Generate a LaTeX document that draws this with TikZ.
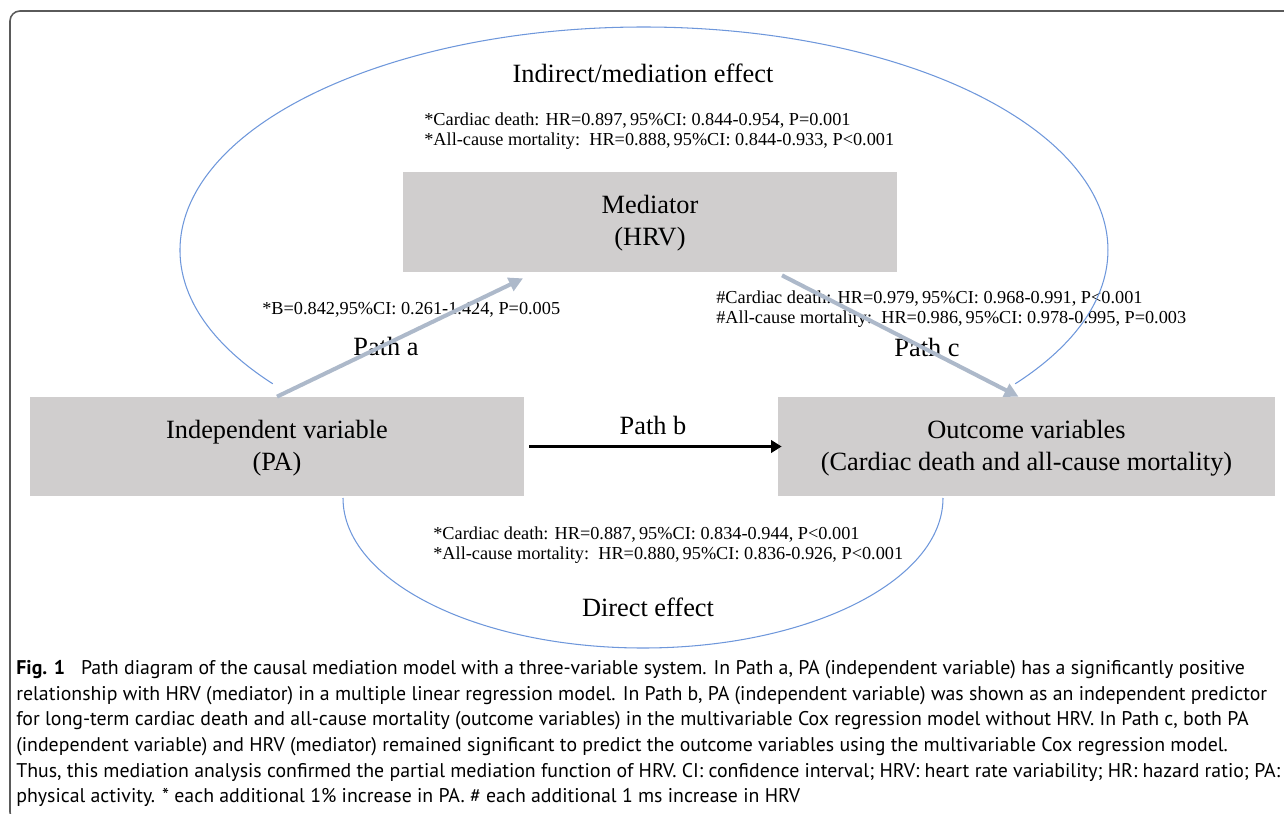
\documentclass[tikz,border=0pt]{standalone}
\usepackage{fontspec}
\setmainfont{Liberation Serif}
\newfontfamily\capfont{PT Sans}
\usetikzlibrary{positioning,arrows.meta}
\definecolor{boxgray}{HTML}{D0CECE}
\definecolor{pathblue}{HTML}{ADB9CA}
\definecolor{ringblue}{HTML}{6E97DB}
\definecolor{framegray}{HTML}{5A5A5A}

\begin{document}
\begin{tikzpicture}[varbox/.style={rectangle,fill=boxgray,align=center,text height=1.09cm,text depth=0.15cm,font=\fontsize{15}{18}\selectfont},
  stats/.style={anchor=west,align=left,inner sep=0pt,font=\fontsize{10.4}{11.4}\selectfont},
  pathlabel/.style={inner sep=0pt,font=\fontsize{15}{18}\selectfont},
  ring/.style={ringblue,line width=0.6pt},
  sidearrow/.style={pathblue,line width=2.3pt,-{Triangle[length=8pt,width=8pt]}},
  mainarrow/.style={black,line width=2pt,-{Triangle[length=6pt,width=7pt]}}]
\useasboundingbox (0,0) rectangle (25.68,-16.28);
% Frame
\draw[framegray,line width=0.9pt,rounded corners=0.2cm] (0.2,-0.22) rectangle (26,-16.44);
% Define all the nodes.
% Mediator
\node[varbox,minimum width=9.88cm,minimum height=2cm] (mediator) at (13,-4.44) {Mediator\\(HRV)};
% Independent variable
\node[varbox,minimum width=9.88cm,minimum height=1.98cm] (indep) at (5.54,-8.93) {Independent variable\\(PA)};
% Outcome variables
\node[varbox,minimum width=9.94cm,minimum height=1.98cm] (outcome) at (20.53,-8.93) {Outcome variables\\(Cardiac death and all-cause mortality)};
% Indirect effect
\node[pathlabel] (indirect) at (12.86,-1.46) {Indirect/mediation effect};
\node[stats] (indirect_stats) at (8.48,-2.62) {*Cardiac death: HR=0.897,\,95\%CI: 0.844-0.954, P=0.001\\*All-cause mortality:\ \ HR=0.888,\,95\%CI: 0.844-0.933, P<0.001};
% Path a
\node[stats] (a_stats) at (5.24,-6.2) {*B=0.842,95\%CI: 0.261-1.424, P=0.005};
\node[pathlabel] (a_label) at (7.72,-6.92) {Path a};
% Path c
\node[stats] (c_stats) at (14.32,-6.18) {\#Cardiac death: HR=0.979,\,95\%CI: 0.968-0.991, P<0.001\\\#All-cause mortality:\ \ HR=0.986,\,95\%CI: 0.978-0.995, P=0.003};
\node[pathlabel] (c_label) at (18.54,-6.94) {Path c};
% Path b
\node[pathlabel] (b_label) at (13.06,-8.5) {Path b};
% Direct effect
\node[stats] (direct_stats) at (8.66,-10.9) {*Cardiac death: HR=0.887,\,95\%CI: 0.834-0.944, P<0.001\\*All-cause mortality:\ \ HR=0.880,\,95\%CI: 0.836-0.926, P<0.001};
\node[pathlabel] (direct) at (12.96,-12.14) {Direct effect};
% Caption
\node[anchor=north west,align=left,inner sep=0pt,font=\capfont\fontsize{11.28}{14.6}\selectfont] (caption) at (0.32,-13.2) {\textbf{Fig. 1}\hspace{0.8em}Path diagram of the causal mediation model with a three-variable system. In Path a, PA (independent variable) has a significantly positive\\
relationship with HRV (mediator) in a multiple linear regression model. In Path b, PA (independent variable) was shown as an independent predictor\\
for long-term cardiac death and all-cause mortality (outcome variables) in the multivariable Cox regression model without HRV. In Path c, both PA\\
(independent variable) and HRV (mediator) remained significant to predict the outcome variables using the multivariable Cox regression model.\\
Thus, this mediation analysis confirmed the partial mediation function of HRV. CI: confidence interval; HRV: heart rate variability; HR: hazard ratio; PA:\\
physical activity. * each additional 1\% increase in PA. \# each additional 1 ms increase in HRV};
% Draw the rings
\draw[ring] (5.456,-7.676) arc[start angle=216.87,end angle=-36.87,x radius=9.28cm,y radius=4.46cm];
\draw[ring] (6.86,-9.96) arc[start angle=180,end angle=360,x radius=6cm,y radius=3cm];
% Draw the arrows
\draw[sidearrow] (indep.north) -- ([xshift=-2.54cm,yshift=-0.12cm]mediator.south);
\draw[sidearrow] ([xshift=2.64cm,yshift=-0.06cm]mediator.south) -- ([xshift=-0.16cm]outcome.north);
\draw[mainarrow] ([xshift=0.1cm]indep.east) -- ([xshift=0.08cm]outcome.west);
\end{tikzpicture}
\end{document}
